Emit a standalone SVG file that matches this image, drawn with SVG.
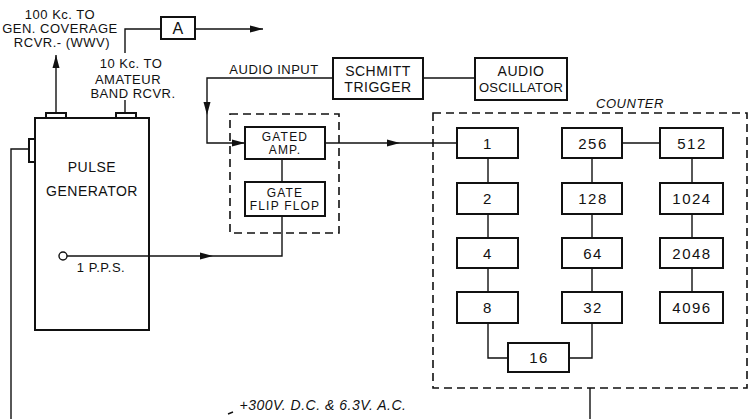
<svg xmlns="http://www.w3.org/2000/svg" width="749" height="419" viewBox="0 0 749 419">
<style>
.box{fill:#fff;stroke:#111;stroke-width:2}
.dash{fill:none;stroke:#111;stroke-width:1.6;stroke-dasharray:8 5}
.ln{fill:none;stroke:#111;stroke-width:1.4}
.t{font-family:"Liberation Sans",Arial,sans-serif;font-size:14px;fill:#111;text-anchor:middle;letter-spacing:0.5px}
.s{font-size:13px}
.g{font-size:12px;letter-spacing:1.2px}
.n{font-size:15px;letter-spacing:1.5px}
.i{font-style:italic}
</style>
<defs>
<marker id="ah" markerUnits="userSpaceOnUse" markerWidth="14" markerHeight="8" refX="13" refY="4" orient="auto">
<path d="M0,0.5 L13,4 L0,7.5 Z" fill="#111"/>
</marker>
</defs>
<rect width="749" height="419" fill="#fff"/>

<g id="labels">
<text class="t s" x="60" y="19">100 Kc. TO</text>
<text class="t s" x="60" y="33">GEN. COVERAGE</text>
<text class="t s" x="62" y="47">RCVR.- (WWV)</text>
<text class="t s" x="131" y="68">10 Kc. TO</text>
<text class="t s" x="128" y="84">AMATEUR</text>
<text class="t s" x="133" y="98">BAND RCVR.</text>
<text class="t s" x="274" y="74">AUDIO INPUT</text>
<text class="t s i" x="630" y="108">COUNTER</text>
<text class="t i" x="323" y="410" style="font-size:14px">+300V. D.C. &amp; 6.3V. A.C.</text>
</g>

<g id="pulse-generator">
<rect class="box" x="35" y="118" width="114" height="212"/>
<rect class="box" x="46" y="113" width="20" height="5"/>
<rect class="box" x="116" y="113" width="20" height="5"/>
<rect class="box" x="29" y="139" width="6" height="23"/>
<text class="t" x="92" y="172">PULSE</text>
<text class="t" x="92" y="196">GENERATOR</text>
<circle cx="63" cy="256" r="4" fill="#fff" stroke="#111" stroke-width="1.4"/>
<text class="t s" x="101" y="272">1  P.P.S.</text>
</g>

<g id="amp-a">
<rect class="box" x="161" y="17" width="34" height="22"/>
<text class="t" x="178" y="34" style="font-size:16px">A</text>
</g>

<g id="schmitt-trigger">
<rect class="box" x="333" y="58" width="90" height="41"/>
<text class="t" x="378" y="76">SCHMITT</text>
<text class="t" x="378" y="92">TRIGGER</text>
</g>

<g id="audio-oscillator">
<rect class="box" x="475" y="58" width="92" height="42"/>
<text class="t" x="521" y="76">AUDIO</text>
<text class="t" x="521" y="92" style="font-size:13px;letter-spacing:0.3px">OSCILLATOR</text>
</g>

<g id="gate-unit">
<rect class="dash" x="230" y="114" width="109" height="119"/>
<rect class="box" x="245" y="127" width="80" height="32"/>
<text class="t g" x="285" y="141">GATED</text>
<text class="t g" x="285" y="154">AMP.</text>
<rect class="box" x="245" y="182" width="80" height="34"/>
<text class="t g" x="285" y="197">GATE</text>
<text class="t g" x="285" y="210">FLIP FLOP</text>
</g>

<g id="counter">
<rect class="dash" x="433" y="113" width="314" height="275"/>
<rect class="box" x="457" y="128" width="61" height="30"/><text class="t n" x="488" y="149">1</text>
<rect class="box" x="457" y="183" width="61" height="31"/><text class="t n" x="488" y="204">2</text>
<rect class="box" x="457" y="238" width="61" height="30"/><text class="t n" x="488" y="259">4</text>
<rect class="box" x="457" y="292" width="61" height="31"/><text class="t n" x="488" y="313">8</text>
<rect class="box" x="562" y="128" width="60" height="30"/><text class="t n" x="593" y="149">256</text>
<rect class="box" x="562" y="183" width="60" height="31"/><text class="t n" x="593" y="204">128</text>
<rect class="box" x="562" y="238" width="60" height="30"/><text class="t n" x="593" y="259">64</text>
<rect class="box" x="562" y="292" width="60" height="31"/><text class="t n" x="593" y="313">32</text>
<rect class="box" x="660" y="128" width="63" height="30"/><text class="t n" x="692" y="149">512</text>
<rect class="box" x="660" y="183" width="63" height="31"/><text class="t n" x="692" y="204">1024</text>
<rect class="box" x="660" y="238" width="63" height="30"/><text class="t n" x="692" y="259">2048</text>
<rect class="box" x="660" y="292" width="63" height="31"/><text class="t n" x="692" y="313">4096</text>
<rect class="box" x="508" y="343" width="61" height="29"/><text class="t n" x="539" y="363">16</text>
</g>

<g id="connectors">
<path class="ln" d="M56,113 V55" marker-end="url(#ah)"/>
<path class="ln" d="M125,113 V100"/>
<path class="ln" d="M125,53 V29 H161"/>
<path class="ln" d="M195,29 H263" marker-end="url(#ah)"/>
<path class="ln" d="M333,78 H207 V115" marker-end="url(#ah)"/>
<path class="ln" d="M207,115 V143 H245" marker-end="url(#ah)"/>
<path class="ln" d="M423,78 H475"/>
<path class="ln" d="M325,143 H400" marker-end="url(#ah)"/>
<path class="ln" d="M400,143 H457"/>
<path class="ln" d="M282,159 V182"/>
<path class="ln" d="M67,256 H213" marker-end="url(#ah)"/>
<path class="ln" d="M213,256 H282 V216"/>
<path class="ln" d="M29,149 H11 V419"/>
<path class="ln" d="M488,158 V183 M488,214 V238 M488,268 V292"/>
<path class="ln" d="M592,158 V183 M592,214 V238 M592,268 V292"/>
<path class="ln" d="M692,158 V183 M692,214 V238 M692,268 V292"/>
<path class="ln" d="M622,143 H660"/>
<path class="ln" d="M488,323 V358 H508"/>
<path class="ln" d="M592,323 V358 H569"/>
<path class="ln" d="M590,388 V419"/>
<path class="ln" d="M228,414 L233,412"/>
</g>
</svg>
